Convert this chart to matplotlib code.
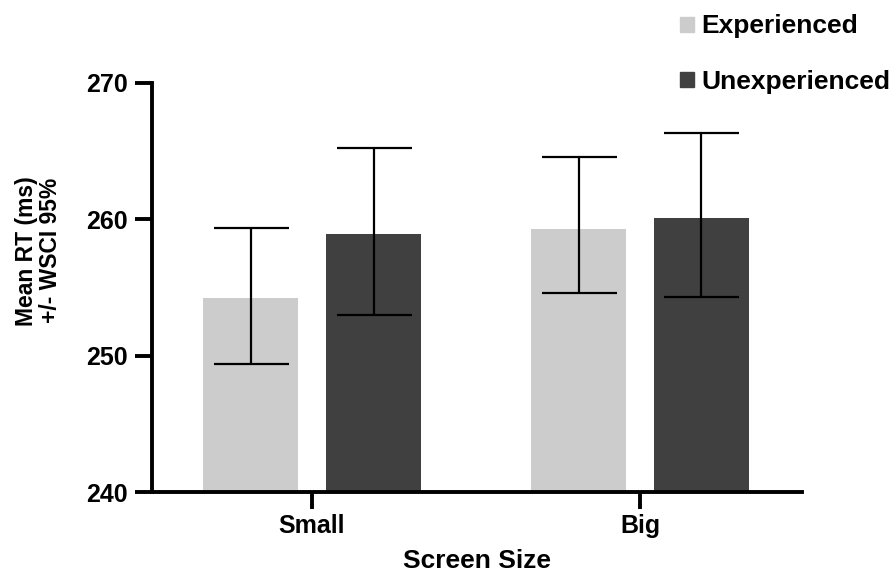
import matplotlib
matplotlib.use("Agg")
import matplotlib.pyplot as plt
from matplotlib.patches import Patch
import numpy as np

plt.rcParams['font.family'] = ['Liberation Sans', 'DejaVu Sans']
plt.rcParams['font.weight'] = 'bold'

sizes = ["Small", "Big"]
groups = ["Experienced", "Unexperienced"]
colors = ["#cccccc", "#404040"]

# mean RT and WSCI 95% limits
exp_mean = [254.2, 259.3]
exp_low = [249.4, 254.6]
exp_high = [259.4, 264.6]
unexp_mean = [258.9, 260.1]
unexp_low = [253.0, 254.3]
unexp_high = [265.2, 266.3]

fig = plt.figure(figsize=(8.95, 5.74), dpi=100)
ax = fig.add_axes([152 / 895, 82 / 574, 650 / 895, 409 / 574])

x = np.arange(len(sizes))
w = 0.29
off = 0.1875
series = [(exp_mean, exp_low, exp_high), (unexp_mean, unexp_low, unexp_high)]
for i, (m, lo, hi) in enumerate(series):
    m = np.array(m)
    pos = x + (-off if i == 0 else off)
    yerr = [m - np.array(lo), np.array(hi) - m]
    ax.bar(pos, m - 240, bottom=240, width=w, color=colors[i], zorder=2)
    ax.errorbar(pos, m, yerr=yerr, fmt='none', ecolor='black',
                elinewidth=1.6, capsize=27, capthick=1.6, zorder=3)

ax.set_ylim(240, 270)
ax.set_xlim(-0.488, 1.494)
ax.set_yticks([240, 250, 260, 270])
ax.set_xticks(x)
ax.set_xticklabels(sizes)
for s in ['top', 'right']:
    ax.spines[s].set_visible(False)
for s in ['left', 'bottom']:
    ax.spines[s].set_linewidth(2.8)
ax.tick_params(axis='both', length=12.5, width=2.8, labelsize=18, pad=5)
ax.tick_params(axis='x', pad=3)

ax.set_xlabel("Screen Size", fontsize=19, fontweight='bold', labelpad=8)
ax.set_ylabel("Mean RT (ms)\n+/- WSCI 95%", fontsize=16.5, fontweight='bold',
              linespacing=1.05)
ax.yaxis.set_label_coords(-0.139, 0.59)

handles = [Patch(color=c) for c in colors]
fig.legend(handles, groups, loc='upper left', bbox_to_anchor=(662 / 895, 1 + 4 / 574),
           frameon=False, fontsize=19, handlelength=0.5, handleheight=0.5,
           handletextpad=0.3, labelspacing=1.2, borderpad=0.2)

fig.savefig("out.png", dpi=100)
